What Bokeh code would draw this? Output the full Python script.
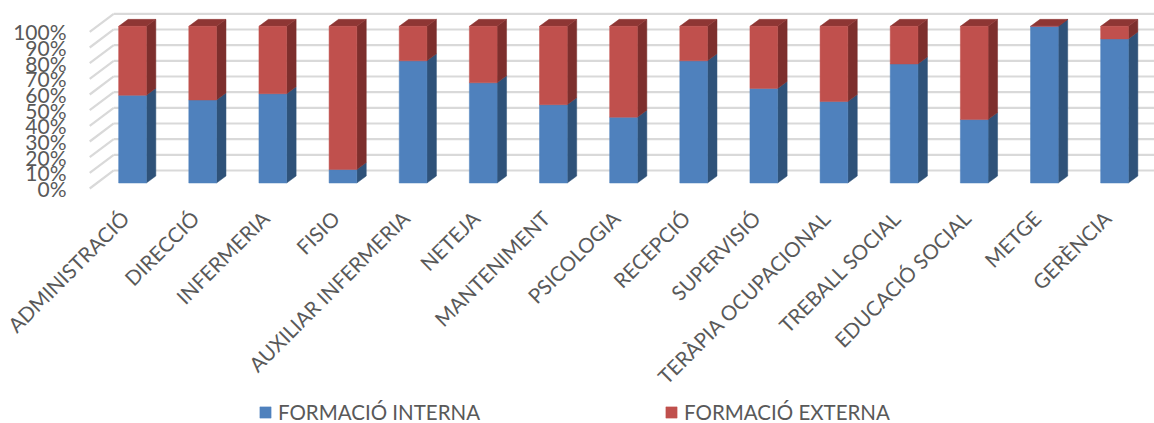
import math
from bokeh.plotting import figure
from bokeh.models import FixedTicker, Legend, LegendItem, AllLabels
from bokeh.embed import file_html
from bokeh.resources import INLINE

categories = ["ADMINISTRACIÓ", "DIRECCIÓ", "INFERMERIA", "FISIO", "AUXILIAR INFERMERIA",
              "NETEJA", "MANTENIMENT", "PSICOLOGIA", "RECEPCIÓ", "SUPERVISIÓ",
              "TERÀPIA OCUPACIONAL", "TREBALL SOCIAL", "EDUCACIÓ SOCIAL", "METGE", "GERÈNCIA"]
interna = [56, 53, 57, 8.6, 78, 64, 50, 42, 78, 60.4, 52, 76, 40.5, 100, 92]
externa = [100 - v for v in interna]
y_ticks = [0, 10, 20, 30, 40, 50, 60, 70, 80, 90, 100]
y_labels = [f"{t}%" for t in y_ticks]

BAR_W, DEPTH_X, DEPTH_Y, BASE = 0.395, 0.135, 4.47, 3.5
WALL_X0, WALL_DX, WALL_DY = -0.61, 0.342, 11.5
X_END = 14.57
LABEL_SHIFT = -0.105
AXIS_Y = -7.66
AXIS_X = -0.67

p = figure(width=1154, height=423, output_backend="svg", toolbar_location=None,
           x_range=(-1.882, X_END), y_range=(-150, 120),
           min_border_left=0, min_border_right=0, min_border_top=0, min_border_bottom=0)
p.outline_line_color = None
p.xgrid.visible = False
p.ygrid.visible = False

# walls
GRID = "#D9D9D9"
p.segment([WALL_X0 + WALL_DX] * len(y_ticks), [t + WALL_DY for t in y_ticks],
          [X_END] * len(y_ticks), [t + WALL_DY for t in y_ticks], line_color=GRID, line_width=2.2)
p.segment([WALL_X0] * len(y_ticks), y_ticks,
          [WALL_X0 + WALL_DX] * len(y_ticks), [t + WALL_DY for t in y_ticks], line_color=GRID, line_width=2.2)

idx = list(range(len(categories)))
def front(lo, hi):
    xs, ys = [], []
    for i, a, b in zip(idx, lo, hi):
        l, r = i - BAR_W / 2, i + BAR_W / 2
        xs.append([l, r, r, l]); ys.append([BASE + a, BASE + a, BASE + b, BASE + b])
    return xs, ys
def side(lo, hi):
    xs, ys = [], []
    for i, a, b in zip(idx, lo, hi):
        r = i + BAR_W / 2
        xs.append([r, r + DEPTH_X, r + DEPTH_X, r])
        ys.append([BASE + a, BASE + a + DEPTH_Y, BASE + b + DEPTH_Y, BASE + b])
    return xs, ys
def top(h):
    xs, ys = [], []
    for i, b in zip(idx, h):
        l, r = i - BAR_W / 2, i + BAR_W / 2
        xs.append([l, r, r + DEPTH_X, l + DEPTH_X])
        ys.append([BASE + b, BASE + b, BASE + b + DEPTH_Y, BASE + b + DEPTH_Y])
    return xs, ys

zeros = [0] * len(idx)
totals = [a + b for a, b in zip(interna, externa)]
xs, ys = side(zeros, interna)
p.patches(xs, ys, fill_color="#2F5279", line_color="#2F5279", line_width=0.5)
xs, ys = side(interna, totals)
p.patches(xs, ys, fill_color="#7D2F2D", line_color="#7D2F2D", line_width=0.5)
xs, ys = top(totals)
p.patches(xs, ys, fill_color="#8E3634", line_color="#8E3634", line_width=0.5)
xs, ys = front(zeros, interna)
r_int = p.patches(xs, ys, fill_color="#4F81BD", line_color="#4F81BD", line_width=0.5)
xs, ys = front(interna, totals)
r_ext = p.patches(xs, ys, fill_color="#C0504D", line_color="#C0504D", line_width=0.5)

FONT = "Lato"
ax = p.yaxis[0]
ax.fixed_location = AXIS_X
ax.ticker = FixedTicker(ticks=y_ticks)
ax.major_label_overrides = dict(zip(y_ticks, y_labels))
ax.major_label_policy = AllLabels()
ax.axis_line_color = None
ax.major_tick_line_color = None
ax.minor_tick_line_color = None
ax.major_label_standoff = 13
ax.major_label_text_font = FONT
ax.major_label_text_font_size = "21px"
ax.major_label_text_color = "#595959"

x_tick_pos = [i + LABEL_SHIFT for i in idx]
xa = p.xaxis[0]
xa.fixed_location = AXIS_Y
xa.ticker = FixedTicker(ticks=x_tick_pos)
xa.major_label_overrides = dict(zip(x_tick_pos, categories))
xa.major_label_policy = AllLabels()
xa.major_label_orientation = math.pi / 4
xa.axis_line_color = None
xa.major_tick_line_color = None
xa.minor_tick_line_color = None
xa.major_label_standoff = 8
xa.major_label_text_font = FONT
xa.major_label_text_font_size = "20.5px"
xa.major_label_text_color = "#595959"

legend = Legend(items=[LegendItem(label="FORMACIÓ INTERNA", renderers=[r_int]),
                       LegendItem(label="FORMACIÓ EXTERNA", renderers=[r_ext])],
                orientation="horizontal", location=(258, -1), spacing=184,
                background_fill_alpha=0, border_line_color=None,
                label_text_font=FONT, label_text_font_size="20.5px", label_text_color="#595959",
                glyph_width=14, glyph_height=14, label_standoff=6, padding=0, margin=0)
p.add_layout(legend, "center")

open("out.html", "w").write(file_html(p, INLINE))
